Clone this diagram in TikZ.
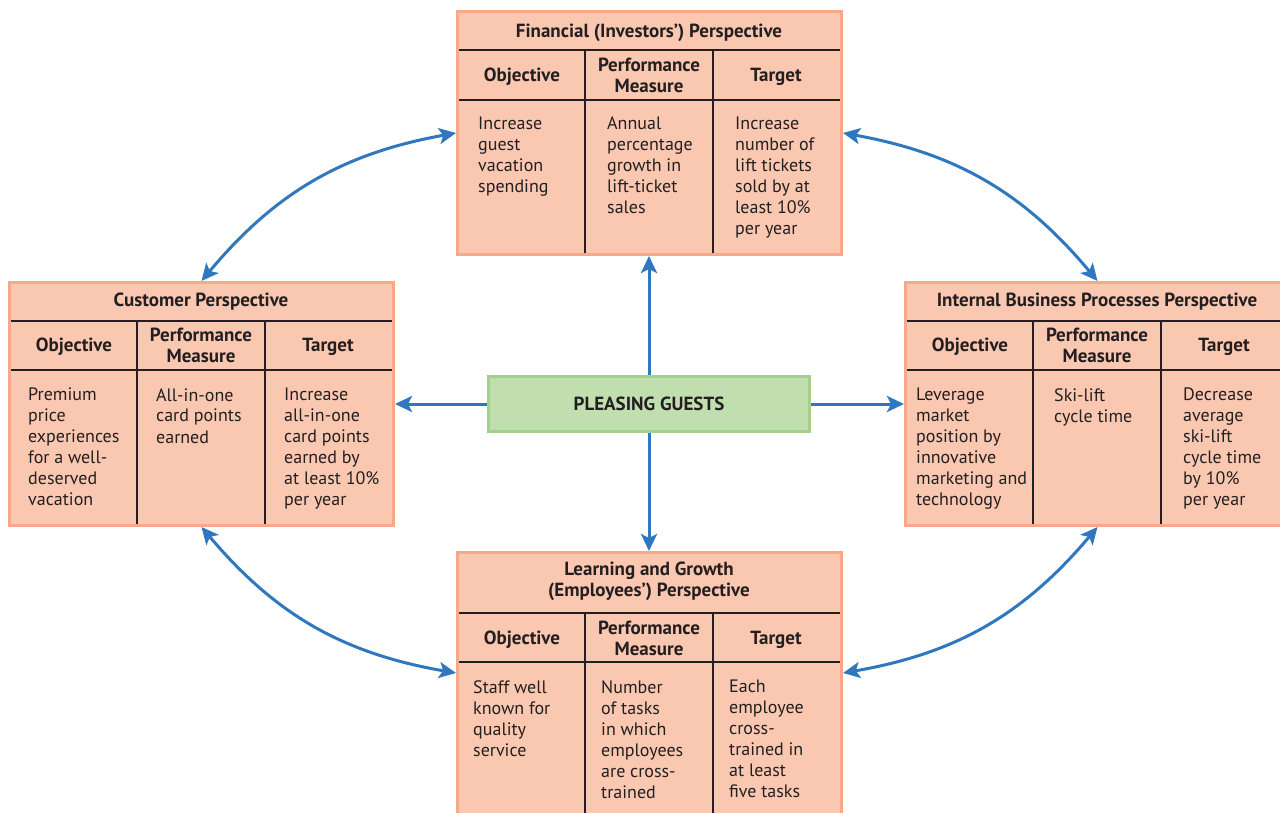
\documentclass[tikz,border=0pt]{standalone}
\usepackage{fontspec}
\setmainfont{PT Sans}
\usepackage{tikz}
\usetikzlibrary{arrows.meta,positioning,calc}
\definecolor{boxfill}  {HTML}{FAC8B1}
\definecolor{boxedge}  {HTML}{F5A98A}
\definecolor{leaf}     {HTML}{C1DFAE}
\definecolor{leafedge} {HTML}{A3D08B}
\definecolor{flow}     {HTML}{2F77BF}
\definecolor{ink}      {HTML}{231F20}
\tikzset{
  panel/.style={draw=boxedge,line width=3pt,fill=boxfill,
                minimum width=384pt,inner sep=0pt},
  hubbox/.style={draw=leafedge,line width=3pt,fill=leaf,text=ink,
                 minimum width=321pt,minimum height=55pt,
                 font=\fontsize{19}{21}\selectfont\bfseries},
  rule/.style={draw=ink,line width=1.3pt},
  ptitle/.style={align=center,text=ink,inner sep=0pt,
                 font=\fontsize{19}{21}\selectfont\bfseries},
  colhead/.style={align=center,text=ink,inner sep=0pt,
                  font=\fontsize{19}{21}\selectfont\bfseries},
  bodytext/.style={anchor=north west,align=left,text=ink,inner sep=0pt,
                   font=\fontsize{18}{21}\selectfont},
  flowline/.style={draw=flow,line width=3pt,
                   -{Stealth[length=17pt,width=16pt,inset=4pt]}},
  twoway/.style={draw=flow,line width=3pt,
                 {Stealth[length=17pt,width=16pt,inset=4pt]}-{Stealth[length=17pt,width=16pt,inset=4pt]}}
}
\begin{document}
\begin{tikzpicture}[x=1pt,y=-1pt]
  \useasboundingbox (0,0) rectangle (1280,813);
  \clip (0,0) rectangle (1280,813);

  % the four perspectives
  \node[panel,minimum height=243pt] (fin)   at (649.5,133)  {};
  \node[panel,minimum height=243pt] (cust)  at (201.5,404)  {};
  \node[panel,minimum height=243pt] (int)   at (1097.5,404) {};
  \node[panel,minimum height=297pt] (learn) at (649.5,701)  {};

  \foreach \p/\t/\h in {fin/40/90,cust/40/89,int/40/89,learn/62/111} {
    \draw[rule] ([xshift=3,yshift=-\t]\p.north west) -- ([xshift=-3,yshift=-\t]\p.north east);
    \draw[rule] ([xshift=3,yshift=-\h]\p.north west) -- ([xshift=-3,yshift=-\h]\p.north east);
    \draw[rule] ([xshift=129,yshift=-\t]\p.north west) -- ([xshift=129,yshift=3]\p.south west);
    \draw[rule] ([xshift=257,yshift=-\t]\p.north west) -- ([xshift=257,yshift=3]\p.south west);
  }

  % financial
  \node[ptitle]  (finT)  at (649,32.5) {Financial (Investors') Perspective};
  \node[colhead] (finH1) at (522,77) {Objective};
  \node[colhead] (finH2) at (649,75) {Performance\\Measure};
  \node[colhead] (finH3) at (776,77) {Target};
  \node[bodytext] (finB1) at (478,117) {Increase\\guest\\vacation\\spending};
  \node[bodytext] (finB2) at (607,117) {Annual\\percentage\\growth in\\lift-ticket\\sales};
  \node[bodytext] (finB3) at (735,117) {Increase\\number of\\lift tickets\\sold by at\\least 10\%\\per year};

  % customer
  \node[ptitle]  (custT)  at (201,302) {Customer Perspective};
  \node[colhead] (custH1) at (74,347)  {Objective};
  \node[colhead] (custH2) at (201,345) {Performance\\Measure};
  \node[colhead] (custH3) at (328,347) {Target};
  \node[bodytext] (custB1) at (28,388)  {Premium\\price\\experiences\\for a well-\\deserved\\vacation};
  \node[bodytext] (custB2) at (156,388) {All-in-one\\card points\\earned};
  \node[bodytext] (custB3) at (284,388) {Increase\\all-in-one\\card points\\earned by\\at least 10\%\\per year};

  % internal business processes
  \node[ptitle]  (intT)  at (1097,302) {Internal Business Processes Perspective};
  \node[colhead] (intH1) at (970,347)  {Objective};
  \node[colhead] (intH2) at (1097,345) {Performance\\Measure};
  \node[colhead] (intH3) at (1224,347) {Target};
  \node[bodytext] (intB1) at (916,388)  {Leverage\\market\\position by\\innovative\\marketing and\\technology};
  \node[bodytext] (intB2) at (1054,388) {Ski-lift\\cycle time};
  \node[bodytext] (intB3) at (1183,388) {Decrease\\average\\ski-lift\\cycle time\\by 10\%\\per year};

  % learning and growth
  \node[ptitle]  (learnT)  at (649,581) {Learning and Growth\\(Employees') Perspective};
  \node[colhead] (learnH1) at (522,640) {Objective};
  \node[colhead] (learnH2) at (649,638) {Performance\\Measure};
  \node[colhead] (learnH3) at (776,640) {Target};
  \node[bodytext] (learnB1) at (473,680) {Staff well\\known for\\quality\\service};
  \node[bodytext] (learnB2) at (601,680) {Number\\of tasks\\in which\\employees\\are cross-\\trained};
  \node[bodytext] (learnB3) at (729,680) {Each\\employee\\cross-\\trained in\\at least\\five tasks};

  % centre and links
  \node[hubbox] (hub) at (649,404) {PLEASING GUESTS};
  \coordinate (learnW) at ([yshift=-122]learn.north west);
  \coordinate (learnE) at ([yshift=-122]learn.north east);

  \draw[flowline] (hub.north) -- (hub.north |- fin.south);
  \draw[flowline] (hub.south) -- (hub.south |- learn.north);
  \draw[flowline] (hub.west) -- (hub.west -| cust.east);
  \draw[flowline] (hub.east) -- (hub.east -| int.west);

  \draw[twoway] (fin.west) to[bend right=20] (cust.north);
  \draw[twoway] (fin.east) to[bend left=20] (int.north);
  \draw[twoway] (cust.south) to[bend right=20] (learnW);
  \draw[twoway] (int.south) to[bend left=20] (learnE);
\end{tikzpicture}
\end{document}
